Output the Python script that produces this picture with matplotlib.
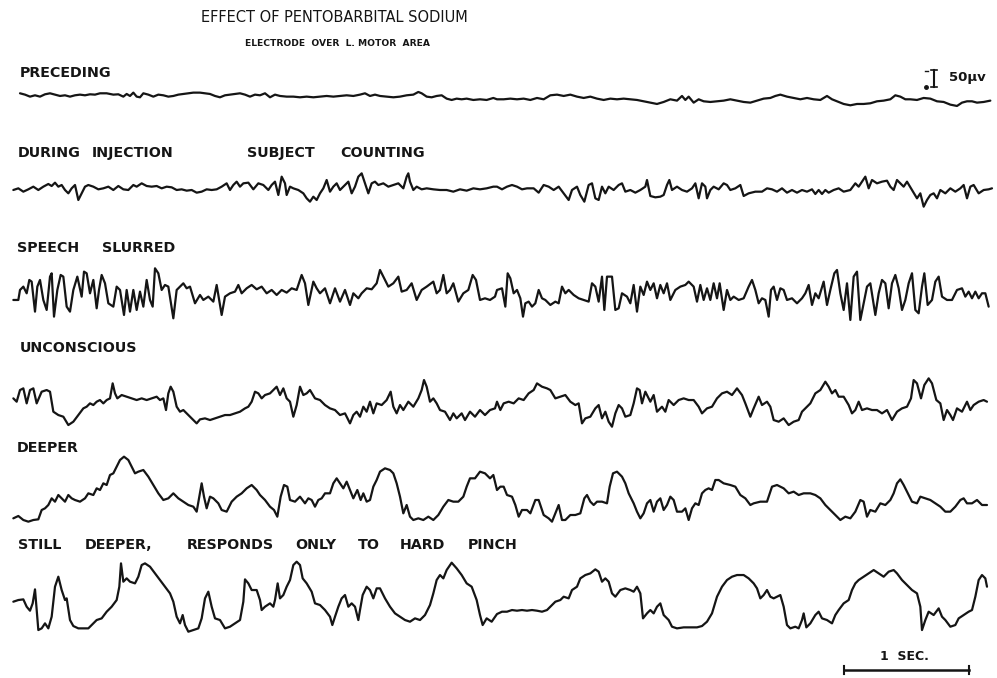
import numpy as np
import matplotlib.pyplot as plt

# digitised EEG record: (sample index, microvolts), 375 samples per second
SAMPLE_RATE = 375

preceding = [
    (60, 12), (75, 8), (90, 2), (105, 6), (120, 2), (135, 9), (150, 12), (165, 8), (180, 4), (195, 6),
    (210, 2), (225, 6), (240, 8), (255, 6), (270, 9), (285, 8), (300, 12), (320, 12), (340, 8), (355, 9),
    (370, 2), (380, 10), (390, 4), (400, 14), (410, 2), (420, 0), (430, 12), (445, 8), (460, 2), (475, 8),
    (490, 6), (505, 2), (520, 4), (535, 8), (550, 10), (565, 12), (580, 14), (600, 14), (615, 12), (630, 10),
    (645, 4), (660, 0), (675, 6), (690, 8), (705, 10), (720, 12), (735, 8), (750, 2), (765, 8), (780, 6),
    (795, 12), (810, 0), (825, 8), (840, 4), (860, 2), (880, 2), (900, 0), (920, 2), (940, 0), (960, 2),
    (980, 4), (1000, 2), (1020, 4), (1040, 6), (1060, 4), (1080, 8), (1095, 12), (1110, 4), (1125, 8), (1140, 4),
    (1160, 2), (1180, 0), (1200, 2), (1220, 6), (1240, 8), (1255, 16), (1265, 12), (1280, 2), (1295, 0), (1310, 4),
    (1325, 6), (1340, -4), (1355, -8), (1370, -4), (1385, -6), (1400, -4), (1420, -8), (1440, -6), (1460, -8), (1480, -2),
    (1491, -6), (1511, -6), (1531, -4), (1551, -6), (1571, -4), (1591, -8), (1611, -2), (1631, -6), (1651, 6), (1671, 8),
    (1691, 4), (1711, 8), (1731, 2), (1751, -2), (1771, 2), (1791, -4), (1811, -8), (1831, -4), (1851, -6), (1871, -4),
    (1891, -6), (1911, -8), (1931, -12), (1951, -16), (1971, -20), (1991, -14), (2011, -6), (2031, -10), (2046, 4), (2056, -8),
    (2066, 2), (2081, -16), (2096, -6), (2111, -12), (2131, -14), (2151, -12), (2171, -10), (2191, -6), (2211, -10), (2231, -14),
    (2251, -16), (2271, -10), (2291, -4), (2311, -2), (2326, 4), (2341, 8), (2361, 2), (2381, -2), (2401, -6), (2421, -2),
    (2441, -6), (2461, -8), (2481, 4), (2496, -6), (2511, -12), (2531, -20), (2551, -24), (2571, -20), (2591, -20), (2611, -18),
    (2631, -12), (2651, -10), (2671, -6), (2686, 6), (2701, 2), (2716, -6), (2731, -6), (2751, -8), (2771, -2), (2791, -4),
    (2811, -12), (2831, -14), (2851, -22), (2871, -26), (2886, -16), (2901, -12), (2916, -12), (2931, -16), (2951, -14), (2971, -10),
]

during_injection = [
    (40, 0), (55, 5), (70, -5), (85, 2), (100, 10), (115, 0), (130, 10), (145, 18), (155, 12), (165, 22),
    (175, 10), (185, 15), (195, 0), (205, -10), (215, 5), (225, 15), (235, -30), (245, -10), (255, 10), (265, 15),
    (280, 10), (295, 2), (310, 5), (325, 10), (340, 0), (355, 12), (370, 2), (385, 0), (400, 15), (410, 10),
    (425, 20), (440, 12), (455, 10), (470, 12), (485, 5), (500, 10), (515, 8), (530, 0), (545, 2), (560, -2),
    (575, 0), (590, -8), (605, -5), (620, 2), (635, 0), (650, 2), (665, 10), (680, 20), (690, 0), (700, 15),
    (710, 25), (720, 10), (730, 20), (745, 22), (760, 2), (775, 20), (790, 15), (805, 0), (815, 15), (825, 25),
    (835, -15), (845, 40), (855, 20), (860, -15), (870, 10), (880, 5), (895, 0), (910, -10), (920, -25), (930, -35),
    (940, -20), (950, -30), (960, -10), (970, 5), (980, 30), (990, -5), (1000, 10), (1010, 20), (1020, 0), (1030, 10),
    (1045, 25), (1055, -10), (1065, 10), (1075, 40), (1085, 50), (1095, 20), (1105, -10), (1115, 20), (1125, 25), (1135, 15),
    (1150, 20), (1165, 10), (1180, 15), (1195, 20), (1210, 5), (1220, 40), (1225, 50), (1230, 25), (1240, 0), (1250, 10),
    (1265, 2), (1280, 5), (1300, 2), (1320, 0), (1340, 0), (1360, -5), (1380, 2), (1400, -2), (1420, 5), (1440, 2),
    (1460, 5), (1480, 10),
    (1491, 10), (1506, 2), (1521, 10), (1536, 15), (1551, 10), (1566, 2), (1581, 5), (1601, 5), (1616, -8), (1631, 15),
    (1646, 10), (1661, 0), (1676, 10), (1691, -10), (1706, -30), (1716, 0), (1731, 10), (1741, -15), (1753, -35), (1766, 15),
    (1776, 20), (1786, -25), (1796, -30), (1806, 10), (1816, -10), (1826, 10), (1841, 0), (1856, 15), (1866, 20), (1876, -5),
    (1891, 0), (1906, -8), (1921, 0), (1936, 10), (1941, 30), (1951, -18), (1966, -22), (1981, -20), (1991, -15), (2001, 15),
    (2008, 30), (2016, 0), (2031, 10), (2046, 0), (2061, -5), (2076, 5), (2086, 20), (2096, -25), (2106, 20), (2116, 10),
    (2121, -25), (2131, 0), (2141, 10), (2156, 2), (2171, 20), (2181, 15), (2191, 0), (2206, 5), (2221, 15), (2231, -18),
    (2246, -10), (2266, -5), (2286, -5), (2301, 5), (2316, 2), (2331, -5), (2346, 5), (2361, -8), (2376, 0), (2391, -8),
    (2406, 0), (2421, -5), (2436, 2), (2446, -12), (2456, 0), (2466, -12), (2476, 0), (2486, -8), (2501, 0), (2516, 5),
    (2531, -5), (2551, 0), (2566, 20), (2576, 10), (2586, 25), (2596, 40), (2606, 5), (2616, 30), (2631, 20), (2646, 25),
    (2661, 28), (2671, 10), (2681, 0), (2691, 30), (2701, 20), (2711, 10), (2721, 25), (2736, 0), (2751, -25), (2761, -10),
    (2771, -50), (2781, -30), (2791, -15), (2801, -10), (2811, -25), (2821, 0), (2836, -10), (2851, 5), (2866, -5), (2881, 5),
    (2891, 15), (2901, -25), (2911, 10), (2921, 15), (2936, -10), (2951, 0), (2966, 2), (2976, 5),
]

speech_slurred = [
    (40, -20), (55, -20), (60, 10), (70, 20), (80, 0), (88, 40), (95, 35), (105, -55), (112, 20), (120, 40),
    (130, -20), (140, -50), (150, 50), (155, 60), (162, -70), (172, 10), (182, 55), (190, 50), (200, -40), (210, -55),
    (220, 10), (232, 50), (245, -10), (252, 65), (260, 60), (270, 0), (280, 40), (290, -45), (297, 10), (305, 55),
    (315, 30), (325, -30), (340, -40), (350, 20), (360, 10), (372, -65), (380, 10), (390, -55), (400, 10), (410, -50),
    (420, 5), (430, -40), (440, 40), (450, -20), (458, -40), (465, 75), (475, 60), (485, 10), (495, 25), (505, 20),
    (520, -75), (530, 10), (540, 20), (550, 30), (560, 15), (570, 20), (585, -30), (600, -5), (610, -20), (625, -10),
    (640, -25), (650, 25), (665, -65), (675, -10), (690, 0), (705, 5), (715, 25), (725, 0), (740, 15), (755, 25),
    (770, 12), (785, 20), (800, 0), (815, 10), (830, -5), (845, 10), (860, 2), (875, 15), (890, 10), (905, 55),
    (915, 30), (925, -35), (940, 35), (950, 15), (960, 0), (975, 15), (990, -30), (1005, 15), (1020, -25), (1035, 10),
    (1050, -35), (1060, 0), (1075, -15), (1085, 0), (1100, 15), (1115, 12), (1130, 30), (1140, 70), (1150, 50), (1165, 20),
    (1180, 30), (1195, 50), (1205, 5), (1220, 10), (1235, 30), (1250, -20), (1265, 10), (1280, 20), (1300, 35), (1310, 0),
    (1320, 10), (1330, 55), (1340, 0), (1350, 10), (1360, 30), (1375, -25), (1390, 0), (1405, 10), (1418, 55), (1428, 40),
    (1440, -20), (1455, -15), (1470, -20), (1485, -10),
    (1491, 10), (1506, 15), (1516, -40), (1523, 60), (1531, 45), (1541, 0), (1551, 10), (1561, -15), (1569, -70), (1576, -30),
    (1586, -25), (1596, -40), (1606, -30), (1616, 10), (1626, -15), (1636, -20), (1651, -35), (1666, -25), (1676, -30), (1686, 20),
    (1696, 0), (1706, 10), (1721, -5), (1736, -15), (1751, -20), (1766, -25), (1776, 30), (1786, 20), (1796, -25), (1806, 50),
    (1813, -50), (1821, 50), (1836, 50), (1846, -50), (1856, -45), (1866, 0), (1881, -10), (1891, -30), (1901, 25), (1911, -55),
    (1921, 20), (1931, -5), (1941, 35), (1951, 10), (1961, 30), (1971, -15), (1981, 25), (1991, 0), (2001, 30), (2011, -20),
    (2026, 10), (2041, 20), (2056, 25), (2066, 35), (2081, 20), (2091, -25), (2101, 25), (2111, -20), (2121, 15), (2131, -20),
    (2141, 30), (2151, -15), (2159, 30), (2171, -50), (2181, 10), (2191, -20), (2201, -10), (2216, -20), (2231, -15), (2246, 20),
    (2256, 40), (2266, 10), (2276, -30), (2286, -15), (2296, -20), (2306, -70), (2313, 10), (2321, 20), (2331, -20), (2341, 15),
    (2351, 10), (2361, -20), (2376, -15), (2391, -30), (2406, -15), (2416, 0), (2426, 25), (2436, -35), (2446, 0), (2456, -15),
    (2471, 35), (2481, -35), (2491, 10), (2503, 60), (2511, 70), (2521, 0), (2531, -50), (2541, 30), (2551, -80), (2561, 50),
    (2571, 65), (2581, -80), (2591, -30), (2601, 20), (2611, 30), (2626, -65), (2636, 0), (2646, 40), (2656, 30), (2666, -45),
    (2676, 30), (2686, 55), (2696, 15), (2706, -50), (2716, -20), (2726, 30), (2736, 60), (2746, -50), (2756, -60), (2766, 20),
    (2773, 60), (2783, -35), (2796, -20), (2806, 35), (2816, 50), (2826, -10), (2841, -20), (2856, -20), (2871, 10), (2886, 15),
    (2896, -10), (2906, 5), (2916, -15), (2926, 5), (2936, -15), (2946, 0), (2956, 0), (2966, -40),
]

unconscious = [
    (40, 25), (50, 15), (60, 50), (70, 55), (80, 10), (90, 50), (100, 55), (110, 10), (125, 45), (140, 50),
    (150, 45), (160, -15), (175, -25), (190, -30), (205, -55), (220, -45), (235, -25), (250, -5), (260, 0), (270, 10),
    (280, 5), (290, 15), (300, 20), (310, 10), (320, 20), (330, 25), (338, 70), (345, 40), (352, 25), (365, 35),
    (380, 30), (395, 25), (410, 20), (425, 25), (440, 20), (455, 25), (470, 30), (480, 20), (490, 25), (498, -10),
    (505, 40), (512, 60), (520, 45), (530, 0), (540, -15), (550, -10), (565, -25), (580, -40), (590, -50), (600, -38),
    (615, -35), (630, -40), (645, -35), (660, -30), (675, -25), (690, -25), (705, -20), (720, -15), (735, -5), (745, 0),
    (755, 15), (765, 45), (775, 40), (785, 25), (795, 35), (810, 40), (820, 50), (830, 60), (840, 35), (850, 55),
    (860, 25), (870, 15), (880, -30), (890, 5), (900, 60), (910, 35), (920, 40), (930, 50), (945, 25), (960, 20),
    (975, 5), (990, -5), (1005, -10), (1020, -25), (1035, -20), (1050, -50), (1060, -25), (1070, -15), (1080, -30), (1090, 0),
    (1100, -15), (1110, 15), (1120, -20), (1130, 10), (1145, 5), (1160, 20), (1172, 45), (1180, 0), (1190, -20), (1200, 5),
    (1210, -10), (1225, 15), (1240, 0), (1255, 25), (1265, 50), (1272, 80), (1280, 60), (1290, 15), (1300, 25), (1310, 10),
    (1320, -10), (1335, -15), (1350, -40), (1360, -20), (1370, -35), (1385, -20), (1395, -40), (1410, -15), (1425, -30), (1440, -10),
    (1455, -25), (1470, -10), (1485, -5),
    (1491, 15), (1501, -10), (1511, 10), (1526, 15), (1541, 10), (1556, 25), (1571, 20), (1586, 40), (1601, 50), (1611, 70),
    (1626, 60), (1641, 55), (1651, 50), (1666, 25), (1681, 30), (1696, 35), (1711, 15), (1726, 5), (1736, 10), (1746, -50),
    (1756, -35), (1771, -30), (1786, -5), (1796, 5), (1806, -35), (1816, -15), (1826, -45), (1836, -60), (1846, -20), (1856, 5),
    (1866, -5), (1876, -30), (1891, -25), (1901, 10), (1911, 55), (1919, 50), (1926, 10), (1936, 45), (1951, 15), (1961, 35),
    (1971, -15), (1986, 0), (1996, -15), (2006, 20), (2021, 5), (2036, 20), (2051, 25), (2066, 20), (2081, 20), (2096, 0),
    (2106, -20), (2121, -5), (2136, 0), (2151, 25), (2166, 40), (2181, 45), (2196, 35), (2211, 55), (2226, 35), (2236, 10),
    (2251, -30), (2261, -5), (2276, 30), (2286, 5), (2301, 15), (2311, 0), (2321, -40), (2336, -45), (2351, -35), (2366, -55),
    (2381, -45), (2396, -40), (2406, -15), (2416, -5), (2431, 10), (2446, 40), (2461, 50), (2476, 75), (2486, 60), (2496, 40),
    (2506, 50), (2516, 30), (2531, 30), (2546, 5), (2556, -20), (2566, -10), (2576, 15), (2586, -10), (2601, -5), (2616, -10),
    (2631, -10), (2646, -20), (2661, -10), (2676, -40), (2691, -15), (2706, -5), (2721, 0), (2733, 25), (2741, 80), (2751, 70),
    (2763, 25), (2773, 65), (2786, 85), (2796, 70), (2809, 20), (2821, 10), (2831, -40), (2841, -10), (2851, -25), (2859, -40),
    (2871, -5), (2886, -15), (2901, 15), (2911, -10), (2921, 5), (2936, 15), (2951, 20), (2961, 15),
]

deeper = [
    (40, -55), (55, -48), (70, -60), (85, -65), (100, -60), (115, -58), (125, -30), (135, -25), (145, -15), (155, 5),
    (165, -5), (175, 15), (185, 5), (195, -5), (205, 15), (215, 5), (225, 0), (240, -5), (255, 5), (265, 20),
    (280, 15), (290, 35), (300, 30), (310, 50), (320, 45), (330, 75), (340, 80), (350, 100), (360, 120), (372, 130),
    (385, 120), (395, 100), (405, 80), (415, 85), (430, 90), (445, 70), (460, 45), (475, 20), (490, 0), (505, 5),
    (520, 20), (535, 5), (550, -5), (565, -15), (580, -20), (590, -35), (598, 10), (605, 50), (612, 10), (620, -25),
    (630, 10), (640, 5), (655, -10), (665, -30), (680, -35), (695, -5), (710, 10), (725, 20), (740, 35), (755, 45),
    (770, 30), (780, 15), (795, 0), (810, -20), (822, -30), (832, -50), (842, 10), (852, 45), (862, 40), (870, 0),
    (885, -5), (900, 10), (915, -10), (925, 5), (935, 0), (945, -20), (955, 0), (965, 5), (975, 20), (990, 20),
    (1000, 50), (1010, 65), (1020, 50), (1030, 35), (1040, 55), (1050, 30), (1060, 5), (1072, 30), (1082, 0), (1090, 20),
    (1100, -5), (1110, 0), (1120, 40), (1130, 60), (1140, 85), (1155, 95), (1170, 90), (1180, 80), (1190, 50), (1200, 10),
    (1210, -40), (1220, -15), (1230, -50), (1240, -60), (1255, -55), (1270, -60), (1285, -50), (1300, -60), (1315, -45), (1330, -20),
    (1345, 0), (1360, -5), (1375, -5), (1390, 10), (1400, 40), (1410, 65), (1425, 65), (1440, 85), (1455, 80), (1470, 65),
    (1480, 75),
    (1491, 30), (1501, 40), (1511, 40), (1521, 15), (1536, 10), (1546, -15), (1556, -50), (1566, -30), (1581, -30), (1591, -40),
    (1606, 0), (1616, 0), (1631, -45), (1646, -55), (1656, -65), (1666, -40), (1676, -15), (1686, -60), (1696, -60), (1711, -45),
    (1726, -45), (1741, -40), (1753, 5), (1761, 15), (1771, -5), (1781, -15), (1791, -5), (1806, -5), (1821, -10), (1829, 40),
    (1839, 80), (1851, 85), (1866, 70), (1876, 50), (1886, 20), (1901, -10), (1911, -35), (1921, -55), (1931, -40), (1941, -10),
    (1951, 0), (1961, -35), (1971, -5), (1981, 5), (1991, -30), (2001, -15), (2011, 10), (2021, 0), (2031, -35), (2046, -35),
    (2056, -25), (2066, -60), (2076, -25), (2086, -10), (2096, -15), (2106, 20), (2116, 30), (2126, 35), (2136, 30), (2146, 60),
    (2156, 60), (2171, 50), (2191, 45), (2206, 40), (2221, 15), (2236, 5), (2251, -15), (2261, -10), (2281, -5), (2301, -5),
    (2316, 40), (2331, 45), (2351, 35), (2366, 20), (2381, 25), (2396, 15), (2411, 20), (2431, 20), (2446, 15), (2461, 5),
    (2476, -15), (2491, -30), (2506, -45), (2521, -60), (2536, -50), (2551, -55), (2566, -35), (2581, 0), (2591, -5), (2601, -50),
    (2611, -30), (2626, -35), (2641, -10), (2656, -15), (2671, 0), (2681, 20), (2691, 50), (2701, 62), (2711, 45), (2721, 25),
    (2736, -5), (2751, -10), (2761, 10), (2776, 5), (2791, 0), (2806, -10), (2821, -20), (2836, -35), (2851, -35), (2866, -20),
    (2881, 0), (2891, 5), (2901, -10), (2916, -10), (2931, 0), (2946, -15), (2961, -15),
]

still_deeper = [
    (40, 15), (55, 20), (70, 22), (80, 0), (90, -12), (98, 10), (105, 52), (110, -10), (115, -70), (125, -65),
    (135, -50), (145, -65), (155, -30), (165, 60), (175, 90), (185, 50), (195, 20), (200, 25), (210, -40), (220, -58),
    (235, -65), (250, -65), (265, -65), (275, -55), (290, -40), (305, -35), (320, -15), (335, 0), (350, 20), (358, 60),
    (363, 130), (370, 75), (380, 85), (390, 75), (405, 70), (415, 90), (425, 125), (435, 130), (450, 120), (465, 100),
    (480, 80), (495, 60), (510, 40), (520, 15), (530, -30), (540, -50), (548, -25), (555, -55), (565, -75), (580, -70),
    (595, -65), (605, -35), (615, 25), (625, 45), (635, 0), (645, -35), (660, -40), (675, -65), (690, -60), (705, -50),
    (720, -40), (730, 15), (735, 82), (745, 70), (755, 50), (770, 50), (780, 20), (785, -10), (795, 0), (810, 10),
    (820, 0), (825, 20), (833, 70), (840, 25), (850, 35), (860, 60), (870, 80), (880, 125), (890, 135), (900, 125),
    (908, 85), (920, 70), (935, 45), (945, 10), (960, 5), (975, -10), (990, -30), (997, -55), (1005, -30), (1015, 0),
    (1025, 25), (1035, 35), (1045, 0), (1055, 10), (1065, 0), (1075, -40), (1080, -10), (1088, 35), (1100, 60), (1110, 50),
    (1120, 25), (1130, 55), (1140, 55), (1155, 25), (1170, 0), (1185, -20), (1200, -30), (1215, -40), (1230, -45), (1245, -35),
    (1260, -40), (1275, -25), (1290, 5), (1300, 40), (1310, 80), (1320, 95), (1330, 85), (1340, 110), (1355, 132), (1370, 115),
    (1385, 95), (1400, 70), (1415, 60), (1430, 20), (1440, -25), (1448, -55), (1460, -35), (1475, -45),
    (1491, -22), (1506, -15), (1521, -15), (1536, -10), (1551, -12), (1566, -10), (1581, -12), (1596, -10), (1611, -12), (1626, -15),
    (1641, -10), (1651, 0), (1666, 15), (1681, 20), (1691, 30), (1706, 25), (1716, 50), (1731, 60), (1741, 85), (1756, 95),
    (1771, 100), (1786, 112), (1796, 105), (1806, 75), (1816, 85), (1826, 75), (1836, 40), (1846, 30), (1861, 50), (1876, 55),
    (1891, 50), (1901, 45), (1911, 60), (1921, 40), (1929, -35), (1941, -20), (1951, -10), (1961, -20), (1971, 0), (1981, 10),
    (1991, -25), (2006, -40), (2016, -60), (2031, -65), (2051, -62), (2071, -62), (2091, -62), (2106, -58), (2121, -45), (2136, -20),
    (2151, 30), (2166, 60), (2181, 80), (2196, 90), (2211, 95), (2231, 95), (2246, 85), (2261, 70), (2271, 55), (2281, 25),
    (2291, 35), (2301, 50), (2311, 30), (2321, 25), (2331, 30), (2341, 35), (2351, 0), (2361, -55), (2371, -65), (2386, -60),
    (2396, -65), (2406, -40), (2411, -20), (2419, -62), (2431, -50), (2446, -25), (2456, -15), (2466, -35), (2481, -40), (2496, -50),
    (2506, -25), (2516, -10), (2531, 10), (2546, 20), (2556, 50), (2566, 70), (2576, 80), (2591, 90), (2606, 100), (2621, 110),
    (2636, 100), (2651, 90), (2666, 105), (2681, 110), (2691, 100), (2706, 80), (2721, 65), (2736, 50), (2751, 40), (2761, 0),
    (2766, -70), (2776, -40), (2786, -15), (2801, -25), (2816, -5), (2826, -30), (2836, -40), (2851, -60), (2866, -55), (2876, -35),
    (2891, -25), (2906, -15), (2916, -10), (2926, 30), (2936, 80), (2946, 95), (2956, 85), (2961, 60),
]

traces = [preceding, during_injection, speech_slurred, unconscious, deeper, still_deeper]

# label words, hand lettered with wide gaps, so each word is placed by itself
label_words = [
    ["PRECEDING"],
    ["DURING", "INJECTION", "SUBJECT", "COUNTING"],
    ["SPEECH", "SLURRED"],
    ["UNCONSCIOUS"],
    ["DEEPER"],
    ["STILL", "DEEPER,", "RESPONDS", "ONLY", "TO", "HARD", "PINCH"],
]

# layout in pixels of the 997x678 picture
W, H = 997, 678
PX_PER_SEC = 125
UV_PER_PX = 3.0
BAND = 110
baselines = [97.3, 190, 293.3, 406.7, 500, 606.7]
label_y = [73, 153, 248, 348, 448, 545]
label_x = [
    [20],
    [18, 92, 247, 340],
    [17, 102],
    [20],
    [17],
    [18, 85, 187, 295, 358, 400, 468],
]
INK = "#151515"


def fx(x):
    return x / W


def fy(y):
    return 1 - y / H


fig = plt.figure(figsize=(W / 100, H / 100), dpi=100)
fig.patch.set_facecolor("white")

axes = []
for base, data in zip(baselines, traces):
    ax = fig.add_axes([0, fy(base + BAND / 2), 1, BAND / H])
    ax.set_xlim(0, W / PX_PER_SEC)
    half = BAND / 2 * UV_PER_PX
    ax.set_ylim(-half, half)
    ax.axis("off")
    n, uv = np.array(data, dtype=float).T
    ax.plot(n / SAMPLE_RATE, uv, color=INK, lw=1.6,
            solid_joinstyle="round", solid_capstyle="round", clip_on=False)
    axes.append(ax)

for words, xs, y in zip(label_words, label_x, label_y):
    for word, x in zip(words, xs):
        fig.text(fx(x), fy(y), word, fontsize=10.3, fontweight="bold",
                 color=INK, ha="left", va="center")

fig.text(fx(334), fy(18), "EFFECT OF PENTOBARBITAL SODIUM", fontsize=10.5,
         color=INK, ha="center", va="center")
fig.text(fx(337), fy(43), "ELECTRODE  OVER  L. MOTOR  AREA", fontsize=6.6,
         fontweight="bold", color=INK, ha="center", va="center")

# 50 microvolt calibration mark
ax = axes[0]
t_cal = 934 / PX_PER_SEC
ax.plot([t_cal, t_cal], [32, 82], color=INK, lw=1.5, clip_on=False)
for v in (32, 82):
    ax.plot([t_cal - 0.025, t_cal + 0.025], [v, v], color=INK, lw=1.2, clip_on=False)
ax.plot([t_cal - 0.075, t_cal - 0.05], [80, 80], color=INK, lw=1.0, clip_on=False)
ax.plot([t_cal - 0.065], [32], "o", ms=2.5, color=INK, clip_on=False)
fig.text(fx(949), fy(78), "50\u00b5v", fontsize=9.5, fontweight="bold",
         color=INK, ha="left", va="center")

# 1 second time mark
ax = axes[5]
t0 = 844 / PX_PER_SEC
v_bar = -(670 - baselines[5]) * UV_PER_PX
ax.plot([t0, t0 + 1], [v_bar, v_bar], color=INK, lw=1.8, clip_on=False)
for t in (t0, t0 + 1):
    ax.plot([t, t], [v_bar - 12, v_bar + 12], color=INK, lw=1.5, clip_on=False)
fig.text(fx(904), fy(656), "1  SEC.", fontsize=9, fontweight="bold",
         color=INK, ha="center", va="center")

fig.savefig("out.png", dpi=100, facecolor="white")
